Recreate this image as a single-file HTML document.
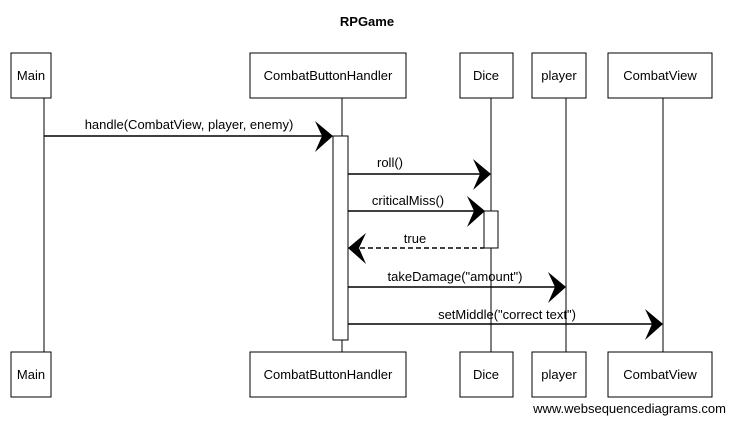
<!DOCTYPE html>
<html><head><style>body{margin:0;background:#fff}svg{display:block}
text{font-family:"Liberation Sans",sans-serif;font-size:13px;fill:#000}</style></head>
<body>
<svg width="734" height="423" viewBox="0 0 734 423">
<text x="367" y="26" text-anchor="middle" font-size="14" font-weight="bold">RPGame</text>
<g stroke="#000" stroke-width="1" fill="none">
<line x1="44" y1="98" x2="44" y2="352"/>
<line x1="342" y1="98" x2="342" y2="352"/>
<line x1="491" y1="98" x2="491" y2="352"/>
<line x1="566" y1="98" x2="566" y2="352"/>
<line x1="663" y1="98" x2="663" y2="352"/>
</g>
<g stroke="#000" stroke-width="1" fill="#fff">
<rect x="333" y="136" width="15" height="204"/>
<rect x="484" y="211" width="14" height="37"/>
<rect x="11" y="53" width="40" height="45"/><rect x="250" y="53" width="156" height="45"/>
<rect x="460" y="53" width="53" height="45"/><rect x="532" y="53" width="54" height="45"/>
<rect x="608" y="53" width="104" height="45"/>
<rect x="11" y="352" width="40" height="45"/><rect x="250" y="352" width="156" height="45"/>
<rect x="460" y="352" width="53" height="45"/><rect x="532" y="352" width="54" height="45"/>
<rect x="608" y="352" width="104" height="45"/>
</g>
<g text-anchor="middle">
<text x="31" y="80">Main</text><text x="328" y="80">CombatButtonHandler</text>
<text x="486" y="80">Dice</text><text x="559" y="80">player</text><text x="660" y="80">CombatView</text>
<text x="31" y="379">Main</text><text x="328" y="379">CombatButtonHandler</text>
<text x="486" y="379">Dice</text><text x="559" y="379">player</text><text x="660" y="379">CombatView</text>
</g>
<g stroke="#000" stroke-width="1.5" fill="none">
<line x1="44" y1="136" x2="330" y2="136"/>
<line x1="348" y1="174" x2="488" y2="174"/>
<line x1="348" y1="211" x2="482" y2="211"/>
<line x1="352" y1="248" x2="484" y2="248" stroke-dasharray="5,3"/>
<line x1="348" y1="287" x2="563" y2="287"/>
<line x1="348" y1="324" x2="660" y2="324"/>
</g>
<g fill="#000">
<path d="M333 136 L315 121 L322 136 L315 152Z"/>
<path d="M491 174 L473 159 L480 174 L473 190Z"/>
<path d="M485 211 L467 196 L474 211 L467 227Z"/>
<path d="M348 248 L366 233 L359 248 L366 264Z"/>
<path d="M566 287 L548 272 L555 287 L548 303Z"/>
<path d="M663 324 L645 309 L652 324 L645 340Z"/>
</g>
<g text-anchor="middle" style="font-size:14.5px">
<text x="189" y="129">handle(CombatView, player, enemy)</text>
<text x="390" y="167">roll()</text>
<text x="408" y="205">criticalMiss()</text>
<text x="415" y="243">true</text>
<text x="455" y="281">takeDamage("amount")</text>
<text x="507" y="319">setMiddle("correct text")</text>
</g>
<text x="726" y="413" text-anchor="end" font-size="14">www.websequencediagrams.com</text>
</svg>
</body></html>
